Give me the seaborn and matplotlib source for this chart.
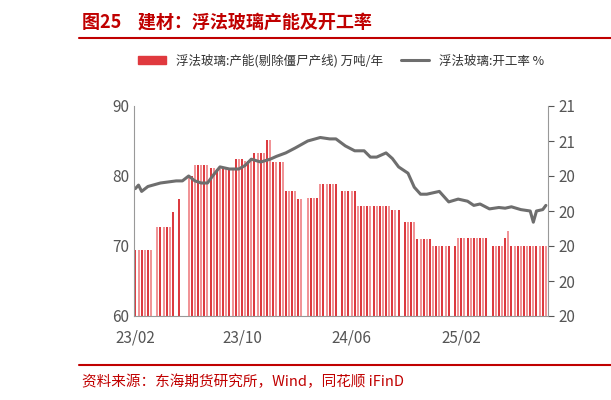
import matplotlib
matplotlib.use("Agg")
import matplotlib.pyplot as plt
from matplotlib.lines import Line2D
import seaborn as sns
import numpy as np

sns.set_style("white")
plt.rcParams['font.family'] = ['Noto Sans CJK SC', 'DejaVu Sans']

# capacity runs (value, weeks); 0 = no data
cap_runs = [(69.5,6),(0,1),(72.7,5),(74.8,1),(0,1),(76.7,1),(0,2),(80,2),(81.6,5),(81.2,2),(81,6),
            (82.4,3),(82.2,3),(83.3,4),(85.2,2),(82,4),(77.8,4),(76.7,2),(0,1),(76.9,4),(78.9,6),(0,1),
            (77.8,5),(75.7,11),(75.2,3),(0,1),(73.5,4),(71,5),(70,6),(0,1),(70,1),(71.2,10),(0,1),
            (70,4),(71.2,1),(72.2,1),(70,12)]
capacity = []
for v, n in cap_runs:
    capacity += [v] * n
weeks = list(range(len(capacity)))

rate_week = [0,1,2,4,8,13,15,17,19,21,23,25,27,30,33,35,37,40,43,45,48,51,55,59,62,64,67,
             70,73,75,77,80,82,84,87,89,91,93,97,100,103,106,108,110,113,116,118,120,123,126,127,128,130,131]
rate_val = [78.2,78.7,77.8,78.5,79.0,79.3,79.3,80.0,79.3,79.0,79.0,80.2,81.3,81.0,81.0,81.5,82.4,82.0,82.4,82.8,83.3,84.0,
            85.0,85.5,85.3,85.3,84.3,83.6,83.6,82.7,82.7,83.3,82.5,81.3,80.4,78.4,77.4,77.4,77.8,76.3,76.7,
            76.4,75.8,76.0,75.3,75.5,75.4,75.6,75.2,75.0,73.4,75.0,75.2,75.8]

xtick_pos = [0, 34, 69, 104]
xtick_lab = ["23/02", "23/10", "24/06", "25/02"]
right_labels = ["20", "20", "20", "20", "20", "21", "21"]

red = "#c00000"
fig = plt.figure(figsize=(6.11, 4.0), dpi=100)
ax = fig.add_axes([0.219, 0.21, 0.678, 0.525])

wk = [w for w, c in zip(weeks, capacity) if c > 0]
cv = [c for c in capacity if c > 0]
cols = ["#d9262c" if w % 2 == 0 else "#f0898c" for w in wk]
ax.vlines(wk, 60, cv, colors=cols, lw=1.3)
sns.lineplot(x=rate_week, y=rate_val, ax=ax, color="#6e6e6e", lw=2.2, legend=False)

ax.set_ylim(60, 90)
ax.set_xlim(-0.5, len(weeks) - 0.3)
ax.set_yticks([60, 70, 80, 90])
ax.set_xticks(xtick_pos)
ax.set_xticklabels(xtick_lab)
for s in ["top", "right"]:
    ax.spines[s].set_visible(False)
for s in ["left", "bottom"]:
    ax.spines[s].set_color("#999999")
ax.tick_params(axis='both', colors="#555555", labelsize=11, length=4, direction='out', width=0.8)
ax.tick_params(axis='x', pad=6)
ax.tick_params(axis='y', length=0)

ax2 = ax.twinx()
ax2.set_ylim(60, 90)
ax2.set_yticks(np.arange(60, 91, 5))
ax2.set_yticklabels(right_labels)
for s in ["top", "left", "bottom"]:
    ax2.spines[s].set_visible(False)
ax2.spines["right"].set_color("#999999")
ax2.tick_params(axis='y', colors="#555555", labelsize=11, length=4)

handles = [plt.Rectangle((0, 0), 1, 1, color="#e0393e"), Line2D([], [], color="#6e6e6e", lw=2.2)]
labels = ["浮法玻璃:产能(剔除僵尸产线) 万吨/年", "浮法玻璃:开工率 %"]
ax.legend(handles, labels, loc="lower center", bbox_to_anchor=(0.5, 1.13), ncol=2, frameon=False,
          fontsize=9, handlelength=2.2, handleheight=0.6, columnspacing=1.5, labelcolor="#333333")

fig.text(0.135, 0.945, "图25    建材：浮法玻璃产能及开工率", color=red, fontsize=13, fontweight="bold", va="center")
fig.add_artist(Line2D([0.13, 1.0], [0.905, 0.905], color=red, lw=1.5))
fig.add_artist(Line2D([0.13, 1.0], [0.088, 0.088], color=red, lw=1.5))
fig.text(0.135, 0.045, "资料来源：东海期货研究所，Wind，同花顺 iFinD", color=red, fontsize=10.5, va="center")

fig.savefig("out.png", dpi=100)
